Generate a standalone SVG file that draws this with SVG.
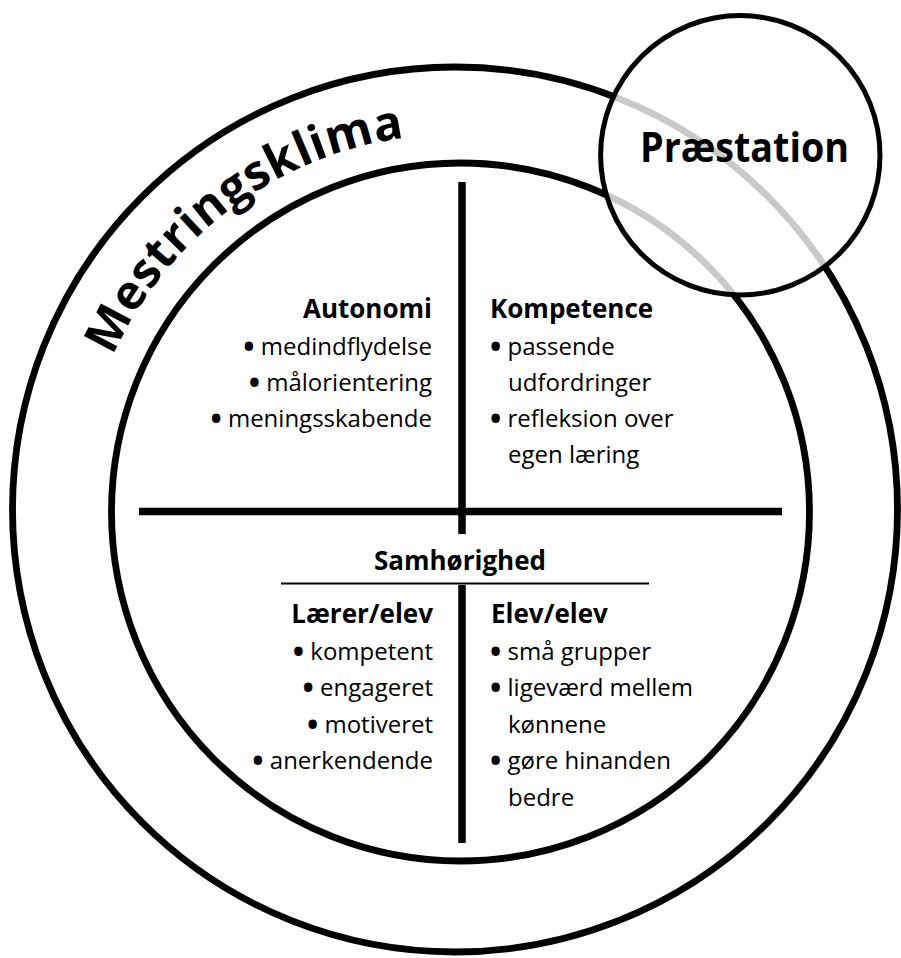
<svg xmlns="http://www.w3.org/2000/svg" width="901" height="958" viewBox="0 0 901 958">
<style>
  .ring { fill: none; stroke: #000; stroke-width: 6.8; }
  .div { stroke: #000; stroke-width: 7.5; fill: none; }
  .thin { stroke: #000; stroke-width: 2; fill: none; }
  text { font-family: "Open Sans", "Noto Sans", sans-serif; fill: #000; }
  .h { font-size: 26px; font-weight: 700; }
  .b { font-size: 24px; font-weight: 400; }
  .bul { font-size: 30px; font-weight: 700; }
  .end { text-anchor: end; }
</style>
<defs>
  <path id="arcPath" d="M 92.8 412.4 A 375 375 0 0 1 642.5 184.7"/>
</defs>
<rect width="901" height="958" fill="#fff"/>

<g id="mestringsklima">
  <circle class="ring" cx="455" cy="509.5" r="442.5"/>
  <text style="font-size:48px;font-weight:700;letter-spacing:0.6px"><textPath href="#arcPath" startOffset="60">Mestringsklima</textPath></text>
</g>

<g id="inner-circle">
  <circle class="ring" cx="460.5" cy="512" r="349"/>
</g>

<g id="connectors">
  <line class="div" x1="462" y1="182" x2="462" y2="534"/>
  <line class="div" x1="139" y1="511.5" x2="782" y2="511.5"/>
  <line class="div" x1="462" y1="585" x2="462" y2="843"/>
  <line class="thin" x1="281" y1="583.5" x2="649" y2="583.5"/>
</g>

<g id="autonomi">
  <text class="h end" x="432" y="318">Autonomi</text>
  <text class="b end" x="432" y="355"><tspan class="bul" dy="2">•</tspan><tspan dy="-2"> medindflydelse</tspan></text>
  <text class="b end" x="432" y="391"><tspan class="bul" dy="2">•</tspan><tspan dy="-2"> målorientering</tspan></text>
  <text class="b end" x="432" y="427"><tspan class="bul" dy="2">•</tspan><tspan dy="-2"> meningsskabende</tspan></text>
</g>

<g id="kompetence">
  <text class="h" x="490" y="318">Kompetence</text>
  <text class="b" x="490" y="355"><tspan class="bul" dy="2">•</tspan><tspan dy="-2"> passende</tspan></text>
  <text class="b" x="508" y="391">udfordringer</text>
  <text class="b" x="490" y="427"><tspan class="bul" dy="2">•</tspan><tspan dy="-2"> refleksion over</tspan></text>
  <text class="b" x="508" y="463">egen læring</text>
</g>

<g id="samhoerighed">
  <text class="h" x="460" y="570" text-anchor="middle">Samhørighed</text>
</g>

<g id="laerer-elev">
  <text class="h end" x="433" y="623">Lærer/elev</text>
  <text class="b end" x="433" y="659.5"><tspan class="bul" dy="2">•</tspan><tspan dy="-2"> kompetent</tspan></text>
  <text class="b end" x="433" y="696"><tspan class="bul" dy="2">•</tspan><tspan dy="-2"> engageret</tspan></text>
  <text class="b end" x="433" y="732.5"><tspan class="bul" dy="2">•</tspan><tspan dy="-2"> motiveret</tspan></text>
  <text class="b end" x="433" y="769"><tspan class="bul" dy="2">•</tspan><tspan dy="-2"> anerkendende</tspan></text>
</g>

<g id="elev-elev">
  <text class="h" x="491" y="623">Elev/elev</text>
  <text class="b" x="490" y="659.5"><tspan class="bul" dy="2">•</tspan><tspan dy="-2"> små grupper</tspan></text>
  <text class="b" x="490" y="696"><tspan class="bul" dy="2">•</tspan><tspan dy="-2"> ligeværd mellem</tspan></text>
  <text class="b" x="508" y="732.5">kønnene</text>
  <text class="b" x="490" y="769"><tspan class="bul" dy="2">•</tspan><tspan dy="-2"> gøre hinanden</tspan></text>
  <text class="b" x="508" y="805.5">bedre</text>
</g>

<g id="praestation">
  <circle cx="740.3" cy="155.3" r="139.7" fill="#fff" fill-opacity="0.79" stroke="#000" stroke-width="5"/>
  <text x="640" y="161.7" textLength="209" lengthAdjust="spacingAndGlyphs" style="font-size:41px;font-weight:700">Præstation</text>
</g>
</svg>
